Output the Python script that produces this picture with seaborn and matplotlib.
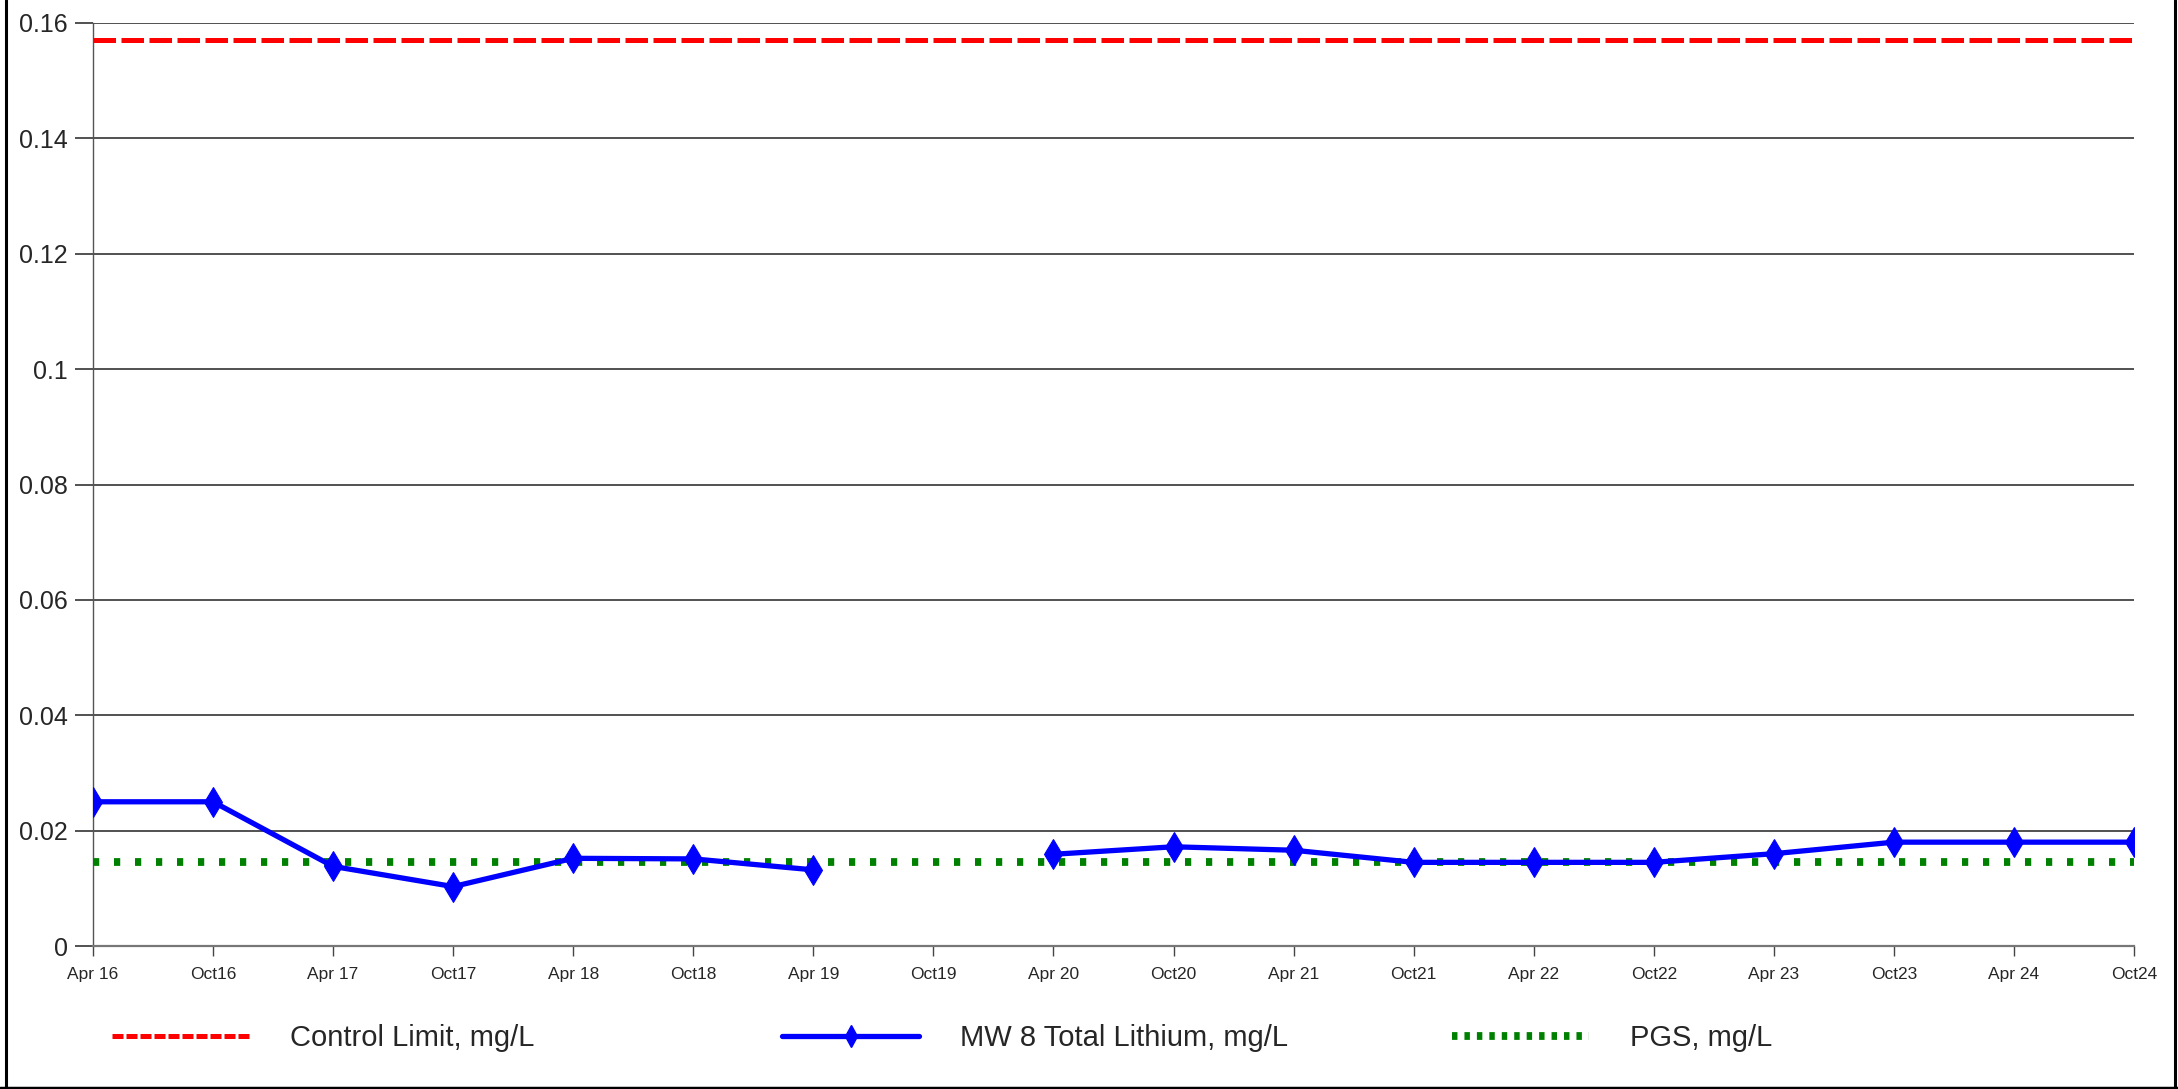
import numpy as np
import pandas as pd
import matplotlib
matplotlib.use("Agg")
import matplotlib.pyplot as plt
from matplotlib.lines import Line2D
import seaborn as sns

# ---- data ----
dates = ["Apr 16", "Oct16", "Apr 17", "Oct17", "Apr 18", "Oct18", "Apr 19", "Oct19",
         "Apr 20", "Oct20", "Apr 21", "Oct21", "Apr 22", "Oct22", "Apr 23", "Oct23",
         "Apr 24", "Oct24"]
lithium = [0.025, 0.025, 0.0138, 0.0103, 0.0152, 0.0151, 0.0132, np.nan,
           0.0159, 0.0172, 0.0166, 0.0145, 0.0145, 0.0145, 0.0160, 0.0180,
           0.0180, 0.0180]
control_limit = 0.157
pgs = 0.0145
y_ticks = [0, 0.02, 0.04, 0.06, 0.08, 0.1, 0.12, 0.14, 0.16]
y_tick_labels = ["0", "0.02", "0.04", "0.06", "0.08", "0.1", "0.12", "0.14", "0.16"]
legend_labels = ["Control Limit, mg/L", "MW 8 Total Lithium, mg/L", "PGS, mg/L"]

sns.set_theme(style="white")
plt.rcParams['font.family'] = ['Liberation Sans', 'DejaVu Sans']

W, H = 2178, 1089
fig = plt.figure(figsize=(W / 100, H / 100), dpi=100)
ax = fig.add_axes([93 / W, 1 - 946 / H, (2134 - 93) / W, (946 - 23) / H])

pos = np.arange(len(dates))
df = pd.DataFrame({"pos": pos, "val": lithium})
df["seg"] = np.cumsum(df["val"].isna().astype(int))
df = df.dropna()

# reference lines
ax.axhline(control_limit, color="#ff0000", lw=3.6, dashes=(4.5, 1.1), zorder=3)
ax.axhline(pgs, color="#008000", lw=5.6, dashes=(0.8, 1.9), zorder=3)

sns.lineplot(data=df, x="pos", y="val", units="seg", estimator=None,
             color="#0000ff", lw=3.8, marker="d", markersize=15,
             markeredgecolor="#0000ff", ax=ax, zorder=4, legend=False)

ax.set_xlim(0, len(dates) - 1)
ax.set_ylim(0, 0.16)
ax.set_xticks(pos)
ax.set_xticklabels(dates, fontsize=12.5)
ax.set_yticks(y_ticks)
ax.set_yticklabels(y_tick_labels, fontsize=18)
ax.set_xlabel("")
ax.set_ylabel("")
ax.yaxis.grid(True, color="#222222", lw=1.1)
ax.xaxis.grid(False)
for s in ["top", "right"]:
    ax.spines[s].set_visible(False)
ax.spines["left"].set_color("#555555")
ax.spines["left"].set_linewidth(1.0)
ax.spines["bottom"].set_color("#777777")
ax.spines["bottom"].set_linewidth(1.6)
ax.tick_params(axis="y", length=13, width=1.1, color="#222222", pad=5, left=True)
ax.tick_params(axis="x", length=7, width=1.0, color="#444444", pad=8, bottom=True)

# legends (equally spaced entries)
handles = [
    Line2D([], [], color="#ff0000", lw=3.6, dashes=(2.2, 0.6)),
    Line2D([], [], color="#0000ff", lw=3.8, marker="d", markersize=11),
    Line2D([], [], color="#008000", lw=5.6, dashes=(0.7, 0.9)),
]
xs = [112, 782, 1452]
for h, lab, x in zip(handles, legend_labels, xs):
    fig.legend([h], [lab], loc="center left", bbox_to_anchor=(x / W, 1 - 1038 / H),
               frameon=False, fontsize=21, handlelength=4.7, handletextpad=1.4,
               borderpad=0, borderaxespad=0)

# figure border (left, right, bottom)
fig.add_artist(Line2D([6 / W, 6 / W], [0, 1], color="black", lw=2.2, transform=fig.transFigure))
fig.add_artist(Line2D([2175 / W, 2175 / W], [0, 1], color="black", lw=2.2, transform=fig.transFigure))
fig.add_artist(Line2D([0, 1], [1.5 / H, 1.5 / H], color="black", lw=2.5, transform=fig.transFigure))

fig.savefig("out.png", dpi=100, facecolor="white")
